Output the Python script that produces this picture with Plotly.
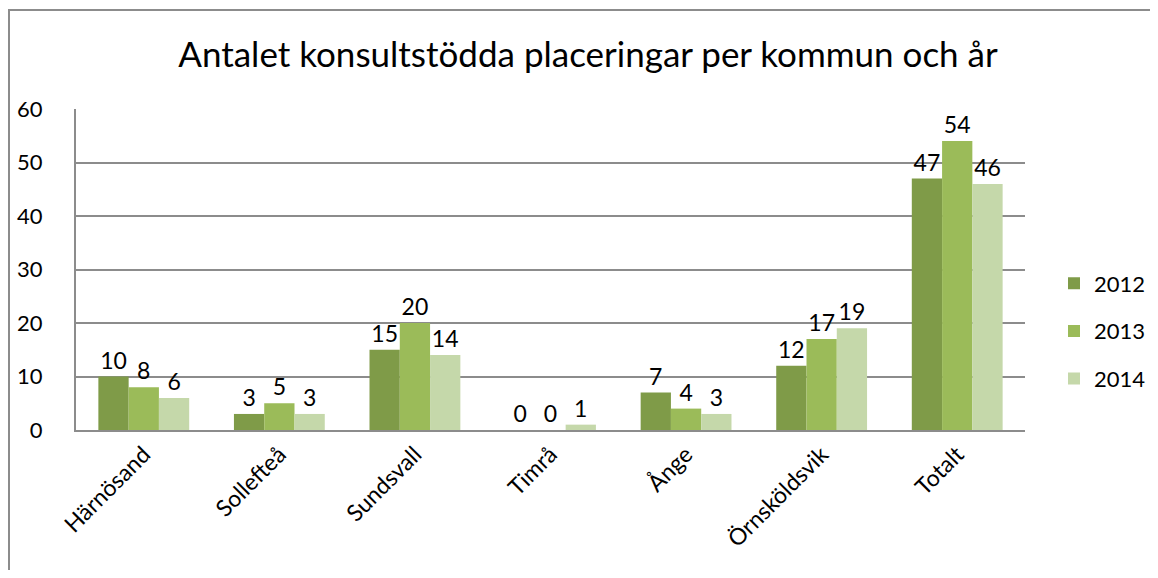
import plotly.graph_objects as go

categories = ["Härnösand", "Sollefteå", "Sundsvall", "Timrå", "Ånge", "Örnsköldsvik", "Totalt"]
years = ["2012", "2013", "2014"]
v2012 = [10, 3, 15, 0, 7, 12, 47]
v2013 = [8, 5, 20, 0, 4, 17, 54]
v2014 = [6, 3, 14, 1, 3, 19, 46]
colors = ["#7F9B48", "#9BBB59", "#C5D8AA"]

FONT = "Lato"
OFF = 8  # page body margin
fig = go.Figure()
for i, (name, vals) in enumerate(zip(years, [v2012, v2013, v2014])):
    fig.add_trace(go.Bar(
        x=categories, y=vals, name=name, marker_color=colors[i],
        marker_line_width=0, text=[str(v) for v in vals], textposition="outside",
        textfont=dict(size=23, color="#000000", family=FONT), cliponaxis=False,
        legendgroup=name,
    ))

W, H = 1158 - 2 * OFF, 578 - 2 * OFF
L, T = 76 - OFF, 109 - OFF
R = W - (1025 - OFF)
B = H - (430 - OFF)
pw, ph = W - L - R, H - T - B

fig.update_layout(
    width=W, height=H, barmode="group", bargap=0.33, bargroupgap=0,
    margin=dict(l=L, r=R, t=T, b=B, autoexpand=False),
    paper_bgcolor="white", plot_bgcolor="white",
    font=dict(family=FONT, color="#000000"),
    title=dict(text="Antalet konsultstödda placeringar per kommun och år",
               x=(588 - OFF) / W, xanchor="center", y=1 - (55 - OFF) / H, yanchor="middle",
               font=dict(size=35, family=FONT, color="#000000")),
    legend=dict(x=(1054 - OFF - L) / pw, xanchor="left", y=(H - B - (331 - OFF)) / ph, yanchor="middle",
                font=dict(size=22, family=FONT), tracegroupgap=16, itemwidth=30),
    showlegend=True,
)
fig.update_yaxes(range=[0, 60], dtick=10, showgrid=True, gridcolor="#8C8C8C", gridwidth=2,
                 showline=True, linecolor="#8C8C8C", linewidth=2, zeroline=False,
                 tickfont=dict(size=22, family=FONT), ticklabelstandoff=27, ticks="")
fig.update_xaxes(showline=True, linecolor="#8C8C8C", linewidth=2, tickangle=-45,
                 tickfont=dict(size=23, family=FONT), ticks="")

# outer chart frame
fig.add_shape(type="rect", xref="paper", yref="paper",
              x0=(1 - L) / pw, x1=(W + 40 - L) / pw,
              y0=(H - B - (H + 40)) / ph, y1=(H - B - (10 - OFF)) / ph,
              line=dict(color="#8C8C8C", width=2), fillcolor="rgba(0,0,0,0)", layer="below")

fig.write_html("out.html", config={"displayModeBar": False})
